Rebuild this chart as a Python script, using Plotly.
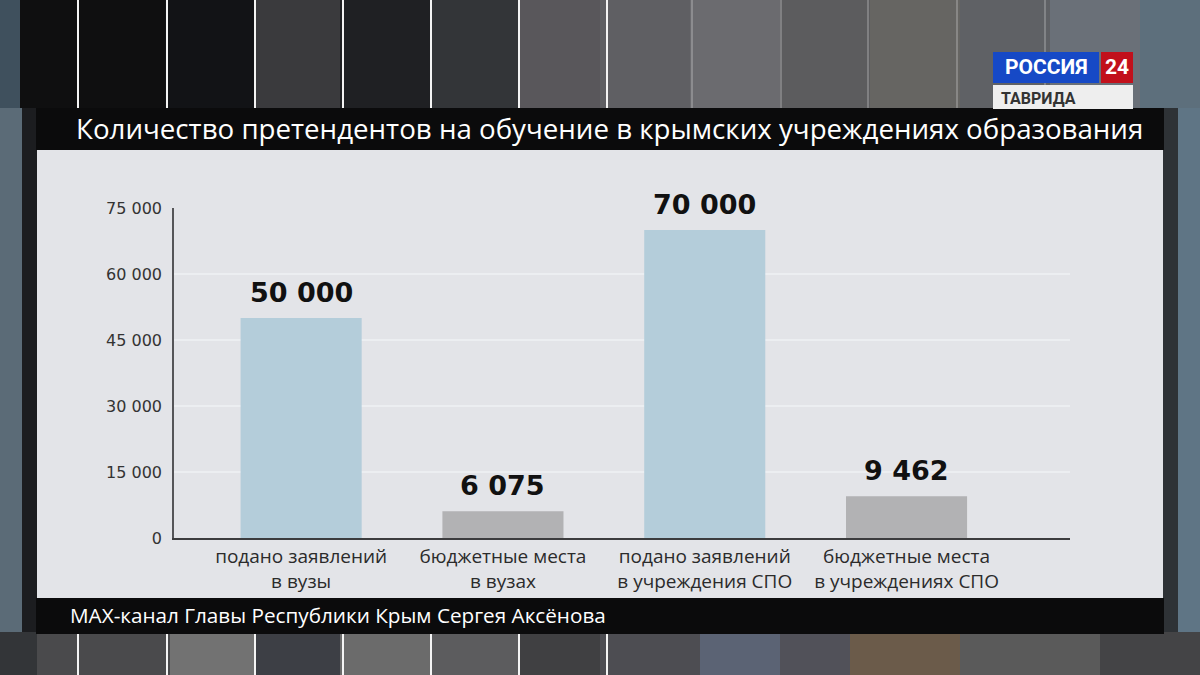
import plotly.graph_objects as go

# ---------------- data ----------------
categories = ["подано заявлений<br>в вузы",
              "бюджетные места<br>в вузах",
              "подано заявлений<br>в учреждения СПО",
              "бюджетные места<br>в учреждениях СПО"]
values = [50000, 6075, 70000, 9462]
value_labels = ["50 000", "6 075", "70 000", "9 462"]
bar_colors = ["#b4cdda", "#b2b2b4", "#b4cdda", "#b2b2b4"]
y_ticks = [0, 15000, 30000, 45000, 60000, 75000]
y_tick_labels = ["0", "15 000", "30 000", "45 000", "60 000", "75 000"]
title_text = "Количество претендентов на обучение в крымских учреждениях образования"
footer_text = "MAX-канал Главы Республики Крым Сергея Аксёнова"

# ---------------- geometry helpers (pixels -> paper) ----------------
FW, FH = 1200, 675
L, R, T, B = 174, 1070, 208, 538
PW, PH = R - L, B - T


def px(x):
    return (x - L) / PW


def py(y):
    return (B - y) / PH


shapes = []


def rect(x0, y0, x1, y1, color, layer="below"):
    shapes.append(dict(type="rect", xref="paper", yref="paper",
                       x0=px(x0), x1=px(x1), y0=py(y1), y1=py(y0),
                       fillcolor=color, line=dict(width=0), layer=layer))


def vline(x, y0, y1, color, w=2):
    shapes.append(dict(type="line", xref="paper", yref="paper",
                       x0=px(x), x1=px(x), y0=py(y1), y1=py(y0),
                       line=dict(color=color, width=w), layer="below"))


# background stripes - top band
top_stripes = [(0, 20, "#3f505d"), (20, 165, "#0f0f10"), (165, 255, "#121316"),
               (255, 340, "#3a3a3d"), (340, 430, "#1f2023"), (430, 520, "#333538"),
               (520, 600, "#59575b"), (600, 690, "#5f5f63"), (690, 780, "#6b6b6f"),
               (780, 870, "#5c5c5e"), (870, 960, "#666562"), (960, 1050, "#5f6165"),
               (1050, 1140, "#6a7078"), (1140, 1200, "#5d6f7c")]
for x0, x1, c in top_stripes:
    rect(x0, 0, x1, 110, c)
# bottom band
bot_stripes = [(0, 37, "#333538"), (37, 170, "#4a4a4c"), (170, 255, "#727272"),
               (255, 340, "#3d3f45"), (340, 430, "#6b6b6b"), (430, 520, "#5c5c5e"),
               (520, 600, "#404042"), (600, 700, "#4d4d52"), (700, 780, "#5b6374"),
               (780, 850, "#515159"), (850, 960, "#6b5b4a"), (960, 1100, "#5a5a5a"),
               (1100, 1200, "#444446")]
for x0, x1, c in bot_stripes:
    rect(x0, 630, x1, 675, c)
# sides
rect(0, 108, 22, 632, "#5b6b77")
rect(22, 108, 37, 632, "#1c1d20")
rect(1163, 108, 1178, 632, "#2e3236")
rect(1178, 108, 1200, 632, "#5f7585")

for x in [78, 167, 255, 343, 431, 519, 607]:
    vline(x, 0, 108, "#f4f4f4")
    vline(x, 634, 675, "#f4f4f4")
for x in [692, 781, 868, 957, 1045]:
    vline(x, 0, 108, "rgba(255,255,255,0.30)", 1.5)

# frame: title bar, panel, footer bar
rect(36, 108, 1164, 150, "#0b0b0c")
rect(37, 150, 1163, 598, "#e3e4e8")
rect(36, 598, 1164, 634, "#0b0b0c")

# logo
rect(993, 52, 1099, 83, "#1649c6")
rect(1101, 52, 1133, 83, "#c2101b")
rect(993, 85, 1133, 109, "#eeeeee")

annotations = []


def text(x, y, s, size, color, bold=False, xanchor="left", family="Open Sans"):
    annotations.append(dict(xref="paper", yref="paper", x=px(x), y=py(y), text=s,
                            showarrow=False, xanchor=xanchor, yanchor="middle",
                            font=dict(size=size, color=color, family=family,
                                      weight=700 if bold else 400)))


text(74, 128, title_text, 27.7, "#ffffff", family="Open Sans")
text(68, 615, footer_text, 20.7, "#ffffff", family="Open Sans")
text(1046, 67, "РОССИЯ", 21, "#ffffff", bold=True, xanchor="center", family="Roboto")
text(1117, 67, "24", 21, "#ffffff", bold=True, xanchor="center", family="Roboto")
text(999, 98, "ТАВРИДА", 16, "#333333", bold=True, family="Roboto")

# value labels above bars (data coordinates)
for cat, v, lab in zip(categories, values, value_labels):
    annotations.append(dict(x=cat, y=v, xref="x", yref="y", text=lab, showarrow=False,
                            yanchor="middle", yshift=26,
                            font=dict(size=27, color="#111111", family="DejaVu Sans",
                                      weight=700)))

fig = go.Figure(go.Bar(x=categories, y=values, width=0.6,
                       marker=dict(color=bar_colors, line=dict(width=0)),
                       hoverinfo="skip"))

fig.update_layout(
    width=FW, height=FH,
    margin=dict(l=L, r=FW - R, t=T, b=FH - B),
    paper_bgcolor="#3a3a3c",
    plot_bgcolor="rgba(0,0,0,0)",
    showlegend=False,
    shapes=shapes,
    annotations=annotations,
    xaxis=dict(range=[-0.63, 3.81], showgrid=False, showline=True,
               linecolor="#3c3c3e", linewidth=2, ticks="",
               tickfont=dict(size=19, color="#2b2b2b", family="Open Sans"),
               ticklabelstandoff=0, fixedrange=True),
    yaxis=dict(range=[0, 75000], tickvals=y_ticks, ticktext=y_tick_labels,
               showgrid=True, gridcolor="#eceef1", gridwidth=1.5, zeroline=False,
               showline=True, linecolor="#555558", linewidth=1.5, ticks="",
               tickfont=dict(size=16, color="#333333", family="DejaVu Sans"),
               ticklabelstandoff=7, fixedrange=True),
)

fig.write_html("out.html", config={"displayModeBar": False},
               post_script="document.body.style.margin='0';")
